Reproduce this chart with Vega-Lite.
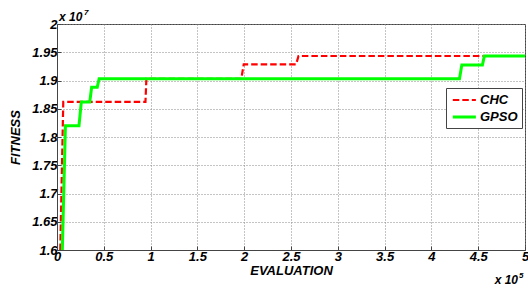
{
  "$schema": "https://vega.github.io/schema/vega-lite/v6.json",
  "width": 468,
  "height": 226,
  "autosize": {"type": "none"},
  "padding": {"left": 57, "top": 24, "right": 3, "bottom": 41},
  "background": "white",
  "config": {
    "font": "Liberation Sans",
    "view": {"stroke": "#444", "strokeWidth": 1},
    "axis": {
      "labelFont": "Liberation Sans",
      "labelFontSize": 13,
      "labelFontWeight": "bold",
      "labelFontStyle": "italic",
      "labelColor": "#000",
      "labelOverlap": false,
      "titleFont": "Liberation Sans",
      "titleFontSize": 13,
      "titleFontWeight": "bold",
      "titleFontStyle": "italic",
      "titleColor": "#000",
      "gridColor": "#888",
      "gridDash": [1, 2],
      "gridWidth": 1,
      "gridOpacity": 1,
      "domainColor": "#444",
      "tickColor": "#444",
      "tickSize": -4
    }
  },
  "layer": [
    {
      "data": {
        "values": [
          {"series": "CHC", "i": 0, "x": 0.035, "y": 1.6},
          {"series": "CHC", "i": 1, "x": 0.067, "y": 1.862},
          {"series": "CHC", "i": 2, "x": 0.945, "y": 1.862},
          {"series": "CHC", "i": 3, "x": 0.955, "y": 1.903},
          {"series": "CHC", "i": 4, "x": 1.969, "y": 1.903},
          {"series": "CHC", "i": 5, "x": 1.995, "y": 1.9287},
          {"series": "CHC", "i": 6, "x": 2.555, "y": 1.9287},
          {"series": "CHC", "i": 7, "x": 2.58, "y": 1.9434},
          {"series": "CHC", "i": 8, "x": 5.0, "y": 1.9434},
          {"series": "GPSO", "i": 0, "x": 0.057, "y": 1.6},
          {"series": "GPSO", "i": 1, "x": 0.09, "y": 1.82},
          {"series": "GPSO", "i": 2, "x": 0.235, "y": 1.82},
          {"series": "GPSO", "i": 3, "x": 0.26, "y": 1.862},
          {"series": "GPSO", "i": 4, "x": 0.35, "y": 1.862},
          {"series": "GPSO", "i": 5, "x": 0.37, "y": 1.888},
          {"series": "GPSO", "i": 6, "x": 0.43, "y": 1.888},
          {"series": "GPSO", "i": 7, "x": 0.45, "y": 1.903},
          {"series": "GPSO", "i": 8, "x": 4.3, "y": 1.903},
          {"series": "GPSO", "i": 9, "x": 4.325, "y": 1.9274},
          {"series": "GPSO", "i": 10, "x": 4.545, "y": 1.9274},
          {"series": "GPSO", "i": 11, "x": 4.566, "y": 1.9434},
          {"series": "GPSO", "i": 12, "x": 5.0, "y": 1.9434}
        ]
      },
      "mark": {"type": "line", "clip": true, "strokeCap": "butt"},
      "encoding": {
        "x": {
          "field": "x", "type": "quantitative",
          "scale": {"domain": [0, 5], "nice": false},
          "axis": {"values": [0, 0.5, 1, 1.5, 2, 2.5, 3, 3.5, 4, 4.5, 5], "tickCount": 11, "format": "~g", "title": "EVALUATION", "labelPadding": 4, "titlePadding": 1, "labelFlush": false}
        },
        "y": {
          "field": "y", "type": "quantitative",
          "scale": {"domain": [1.6, 2], "nice": false, "zero": false},
          "axis": {"values": [1.6, 1.65, 1.7, 1.75, 1.8, 1.85, 1.9, 1.95, 2], "tickCount": 9, "format": "~g", "title": "FITNESS", "labelPadding": 4, "titlePadding": 9}
        },
        "order": {"field": "i", "type": "quantitative"},
        "color": {
          "field": "series", "type": "nominal",
          "scale": {"domain": ["CHC", "GPSO"], "range": ["#ff0000", "#00ff00"]},
          "legend": {
            "title": null,
            "orient": "none",
            "legendX": 389,
            "legendY": 64,
            "direction": "vertical",
            "strokeColor": "#444",
            "fillColor": "white",
            "padding": 4,
            "symbolType": "M-0.8,0H2.75",
            "symbolSize": 169,
            "symbolStrokeWidth": 2.5,
            "symbolFillColor": "transparent",
            "labelFont": "Liberation Sans",
            "labelFontSize": 13,
            "labelFontWeight": "bold",
            "labelFontStyle": "italic",
            "labelColor": "#000",
            "labelOffset": 14,
            "rowPadding": 2
          }
        },
        "strokeDash": {
          "field": "series", "type": "nominal",
          "scale": {"domain": ["CHC", "GPSO"], "range": [[6.5, 3], [1, 0]]},
          "legend": null
        },
        "strokeWidth": {
          "field": "series", "type": "nominal",
          "scale": {"domain": ["CHC", "GPSO"], "range": [2.2, 3]},
          "legend": null
        }
      }
    },
    {
      "data": {"values": [{"t": "x 10", "x": 0, "y": 2}]},
      "mark": {"type": "text", "align": "left", "baseline": "alphabetic", "dx": 2, "dy": -3.5, "fontSize": 12, "fontWeight": "bold", "fontStyle": "italic", "font": "Liberation Sans", "color": "#000"},
      "encoding": {"x": {"field": "x", "type": "quantitative"}, "y": {"field": "y", "type": "quantitative"}, "text": {"field": "t"}}
    },
    {
      "data": {"values": [{"t": "7", "x": 0, "y": 2}]},
      "mark": {"type": "text", "align": "left", "baseline": "alphabetic", "dx": 27, "dy": -9, "fontSize": 8, "fontWeight": "bold", "fontStyle": "italic", "font": "Liberation Sans", "color": "#000"},
      "encoding": {"x": {"field": "x", "type": "quantitative"}, "y": {"field": "y", "type": "quantitative"}, "text": {"field": "t"}}
    },
    {
      "data": {"values": [{"t": "x 10", "x": 5, "y": 1.6}]},
      "mark": {"type": "text", "align": "right", "baseline": "alphabetic", "dx": -7, "dy": 33.5, "fontSize": 12, "fontWeight": "bold", "fontStyle": "italic", "font": "Liberation Sans", "color": "#000"},
      "encoding": {"x": {"field": "x", "type": "quantitative"}, "y": {"field": "y", "type": "quantitative"}, "text": {"field": "t"}}
    },
    {
      "data": {"values": [{"t": "5", "x": 5, "y": 1.6}]},
      "mark": {"type": "text", "align": "left", "baseline": "alphabetic", "dx": -6, "dy": 28, "fontSize": 8, "fontWeight": "bold", "fontStyle": "italic", "font": "Liberation Sans", "color": "#000"},
      "encoding": {"x": {"field": "x", "type": "quantitative"}, "y": {"field": "y", "type": "quantitative"}, "text": {"field": "t"}}
    }
  ]
}
